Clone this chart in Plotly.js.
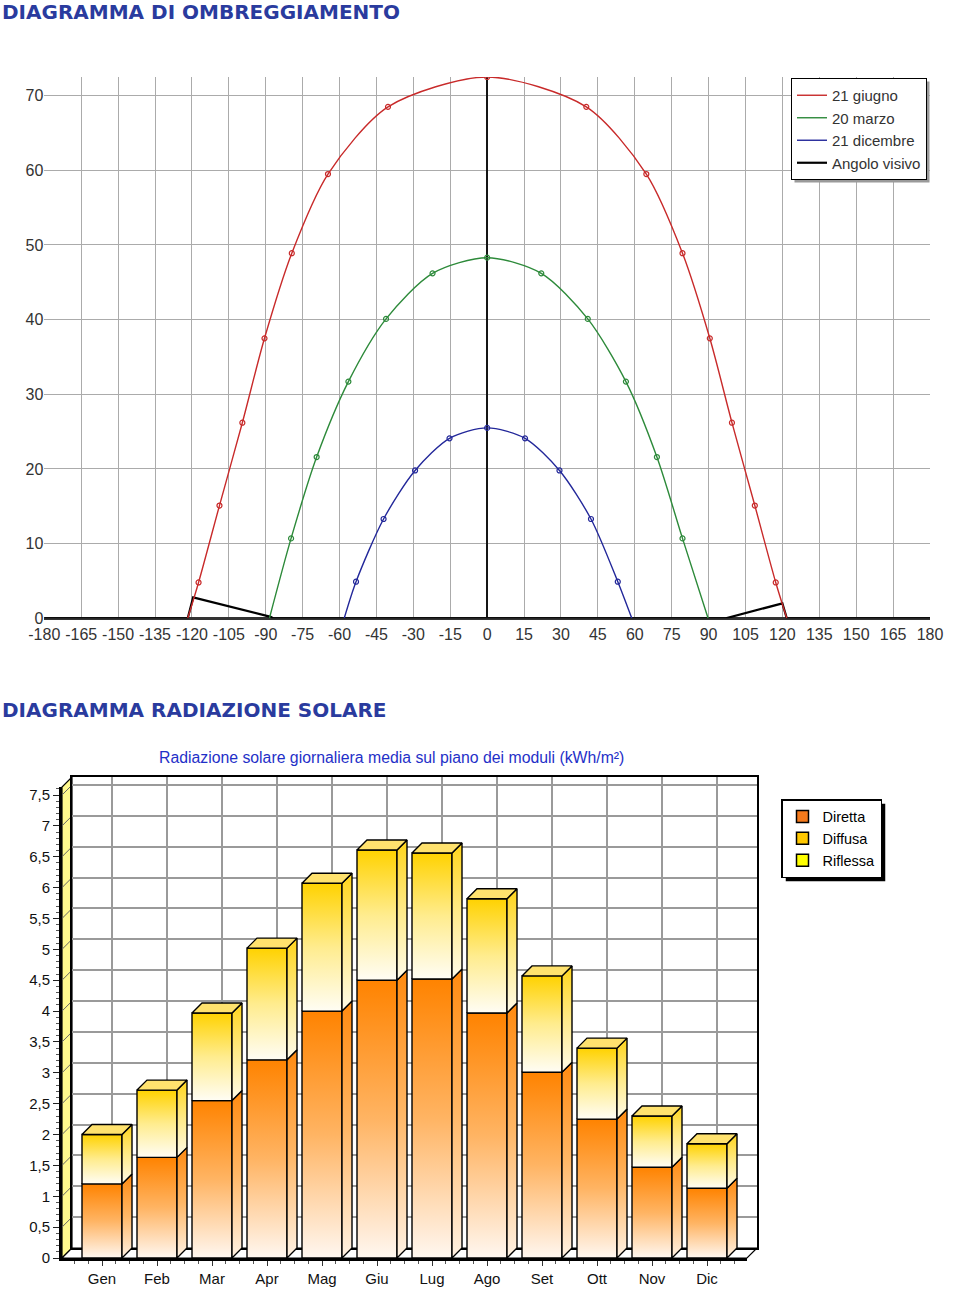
<!DOCTYPE html>
<html><head><meta charset="utf-8">
<script src="https://cdn.plot.ly/plotly-3.0.1.min.js"></script>
<style>html,body{margin:0;padding:0;background:#fff}#chart{width:960px;height:1289px}</style>
</head><body><div id="chart"></div>
<script>
// ---------------- DATA: shading diagram ----------------
const seriesNames = ['21 giugno', '20 marzo', '21 dicembre', 'Angolo visivo'];
const junX = [-117.3, -108.8, -99.5, -90.5, -79.4, -64.7, -40.3, 0, 40.3, 64.7, 79.4, 90.5, 99.5, 108.8, 117.3];
const junY = [4.8, 15.1, 26.2, 37.5, 48.9, 59.5, 68.5, 72.5, 68.5, 59.5, 48.9, 37.5, 26.2, 15.1, 4.8];
const junRiseSet = [-121.7, 121.8];
const marX = [-79.7, -69.3, -56.4, -41.1, -22.2, 0, 22.0, 40.9, 56.4, 69.0, 79.4];
const marY = [10.7, 21.6, 31.7, 40.1, 46.2, 48.3, 46.2, 40.1, 31.7, 21.6, 10.7];
const marRiseSet = [-88.5, 89.8];
const decX = [-53.3, -42.1, -29.3, -15.3, 0, 15.4, 29.4, 42.2, 53.1];
const decY = [4.9, 13.3, 19.8, 24.1, 25.5, 24.1, 19.8, 13.3, 4.9];
const decRiseSet = [-58.1, 58.8];
const viewX = [-180, -121.7, -119.5, -88, -87, 97, 120, 121.8, 180];
const viewY = [0, 0, 2.8, 0.2, 0, 0, 2.0, 0, 0];
const azimuthTicks = [-180, -165, -150, -135, -120, -105, -90, -75, -60, -45, -30, -15, 0, 15, 30, 45, 60, 75, 90, 105, 120, 135, 150, 165, 180];
const elevationTicks = [0, 10, 20, 30, 40, 50, 60, 70];

// ---------------- DATA: solar radiation ----------------
const months = ['Gen', 'Feb', 'Mar', 'Apr', 'Mag', 'Giu', 'Lug', 'Ago', 'Set', 'Ott', 'Nov', 'Dic'];
const diretta = [1.20, 1.63, 2.55, 3.21, 4.00, 4.50, 4.52, 3.97, 3.01, 2.25, 1.47, 1.13];
const diffusa = [0.80, 1.09, 1.42, 1.81, 2.07, 2.11, 2.04, 1.85, 1.56, 1.15, 0.83, 0.72];
const riflessa = [0, 0, 0, 0, 0, 0, 0, 0, 0, 0, 0, 0];
const radNames = ['Diretta', 'Diffusa', 'Riflessa'];

// ---------------- helpers / layout constants ----------------
const W = 960, H = 1289;
const px = v => v / W;
const py = v => 1 - v / H;
const FONT = 'Liberation Sans, Arial, sans-serif';

// bottom chart geometry (front plane)
const X0 = 62, X1 = 747, YB = 1258, YT = 787;     // front plane in px
const DEP = 10;                                    // depth offset in px
const XR = [-0.7273, 11.7273], YR = [0, 7.63];
const uxp = (X1 - X0) / (XR[1] - XR[0]);
const uyp = (YB - YT) / (YR[1] - YR[0]);
const HW = 20 / uxp, DX = DEP / uxp, DY = DEP / uyp;

const traces = [];

// ---------------- top chart traces ----------------
const colors = ['#c82a2a', '#2d8a3a', '#23289a', '#000000'];
// viewing angle first so that the sun paths are drawn over it
traces.push({
  type: 'scatter', mode: 'lines', name: seriesNames[3], legend: 'legend', legendrank: 4,
  x: viewX, y: viewY, line: {color: colors[3], width: 2.2}, hoverinfo: 'x+y'
});
function sunPath(xs, ys, rs, name, col, rank) {
  traces.push({
    type: 'scatter', mode: 'lines', name: name, legend: 'legend', legendrank: rank,
    x: [rs[0]].concat(xs, [rs[1]]), y: [0].concat(ys, [0]),
    line: {color: col, width: 1.4, shape: 'spline', smoothing: 0.8},
    hoverinfo: 'x+y'
  });
  traces.push({
    type: 'scatter', mode: 'markers', showlegend: false, x: xs, y: ys,
    marker: {symbol: 'circle-open', size: 5, color: col, line: {width: 1.2, color: col}},
    hoverinfo: 'x+y'
  });
}
sunPath(junX, junY, junRiseSet, seriesNames[0], colors[0], 1);
sunPath(marX, marY, marRiseSet, seriesNames[1], colors[1], 2);
sunPath(decX, decY, decRiseSet, seriesNames[2], colors[2], 3);

// ---------------- bottom chart: back wall holder (grid only) ----------------
traces.push({type: 'scatter', mode: 'markers', x: [null], y: [null], xaxis: 'x2', yaxis: 'y2',
  showlegend: false, hoverinfo: 'skip'});

// ---------------- bottom chart traces ----------------
const grads = {
  dirFront: [[0, '#fff7f0'], [0.5, '#ffb463'], [1, '#ff8300']],
  dirSide:  [[0, '#fff2e4'], [0.5, '#ffb766'], [1, '#ff8a10']],
  difFront: [[0, '#fffdf4'], [0.5, '#ffec8e'], [1, '#ffd200']],
  difSide:  [[0, '#fffbea'], [0.5, '#ffea88'], [1, '#ffd41a']]
};
function poly(xs, ys, cs, fallback) {
  const t = {
    type: 'scatter', mode: 'lines', x: xs, y: ys, xaxis: 'x3', yaxis: 'y3',
    fill: 'toself', fillcolor: fallback, line: {color: '#000', width: 1.4},
    hoverinfo: 'skip', showlegend: false
  };
  if (cs) t.fillgradient = {type: 'vertical', colorscale: cs};
  traces.push(t);
}
months.forEach((m, i) => {
  const xl = i - HW, xr = i + HW;
  const a = diretta[i], b = a + diffusa[i], c = b + riflessa[i];
  poly([xl, xr, xr, xl, xl], [0, 0, a, a, 0], grads.dirFront, '#ffa040');
  poly([xr, xr + DX, xr + DX, xr, xr], [0, DY, a + DY, a, 0], grads.dirSide, '#ffa040');
  poly([xl, xr, xr, xl, xl], [a, a, b, b, a], grads.difFront, '#ffe060');
  poly([xr, xr + DX, xr + DX, xr, xr], [a, a + DY, b + DY, b, a], grads.difSide, '#ffe060');
  if (riflessa[i] > 0) {
    poly([xl, xr, xr, xl, xl], [b, b, c, c, b], null, '#ffff00');
    poly([xr, xr + DX, xr + DX, xr, xr], [b, b + DY, c + DY, c, b], null, '#ffff40');
  }
  poly([xl, xr, xr + DX, xl + DX, xl], [c, c, c + DY, c + DY, c], null, '#ffe26e');
});
// legend entries for the radiation chart
const radColors = ['#f57a1c', '#ffc800', '#ffff00'];
radNames.forEach((n, k) => {
  traces.push({
    type: 'bar', x: [null], y: [null], xaxis: 'x3', yaxis: 'y3', name: n, legend: 'legend2',
    marker: {color: radColors[k], line: {color: '#000', width: 1.5}}, hoverinfo: 'skip'
  });
});

// ---------------- shapes ----------------
const FY = y => YB - (y - YR[0]) * uyp;
const shapes = [];
// left wall
shapes.push({type: 'path', xref: 'paper', yref: 'paper', layer: 'below',
  path: `M${px(X0)},${py(YB)} L${px(X0)},${py(YT)} L${px(X0 + DEP)},${py(YT - DEP)} L${px(X0 + DEP)},${py(YB - DEP)} Z`,
  fillcolor: '#fff98e', line: {color: '#000', width: 1.2}});
// floor
shapes.push({type: 'path', xref: 'paper', yref: 'paper', layer: 'below',
  path: `M${px(X0)},${py(YB)} L${px(X1)},${py(YB)} L${px(X1 + DEP)},${py(YB - DEP)} L${px(X0 + DEP)},${py(YB - DEP)} Z`,
  fillcolor: '#ffffff', line: {color: '#000', width: 1.2}});
// left wall diagonals
for (let v = 0.5; v <= 7.5; v += 0.5) {
  const yy = FY(v);
  shapes.push({type: 'line', xref: 'paper', yref: 'paper', layer: 'below',
    x0: px(X0), y0: py(yy), x1: px(X0 + DEP), y1: py(yy - DEP), line: {color: '#666', width: 1}});
}
function shadowRect(l, t, r, b, col) {
  return {type: 'rect', xref: 'paper', yref: 'paper', layer: 'above',
    x0: px(l), x1: px(r), y0: py(b), y1: py(t), fillcolor: col, line: {width: 0}};
}
const shadowTop = {off: 3, col: '#9a9a9a', guess: [791, 78, 930, 180]};
const shadowBot = {off: 4, col: '#000000', guess: [781, 799, 884, 871]};
const mk = (s, box) => shadowRect(box[0] + s.off, box[1] + s.off, box[2] + s.off, box[3] + s.off, s.col);

// ---------------- layout ----------------
const gridTop = '#ababab';
const layout = {
  width: W, height: H, margin: {l: 0, r: 0, t: 0, b: 0},
  paper_bgcolor: '#fff', plot_bgcolor: 'rgba(0,0,0,0)',
  separators: ',.', showlegend: true, hovermode: 'closest',
  font: {family: FONT, color: '#222'},
  xaxis: {
    domain: [px(44.3), px(930)], range: [-180, 180], anchor: 'y',
    tickmode: 'array', tickvals: azimuthTicks, ticktext: azimuthTicks.map(String),
    ticks: 'outside', ticklen: 1, tickcolor: 'rgba(0,0,0,0)',
    showgrid: true, gridcolor: gridTop, gridwidth: 1,
    zeroline: true, zerolinecolor: '#151515', zerolinewidth: 2,
    showline: false, tickfont: {family: FONT, size: 16, color: '#333'}, fixedrange: true
  },
  yaxis: {
    domain: [py(618.3), py(77)], range: [0, 72.5], anchor: 'x',
    tickmode: 'array', tickvals: elevationTicks, ticktext: elevationTicks.map(String),
    ticks: '', showgrid: true, gridcolor: gridTop, gridwidth: 1,
    zeroline: true, zerolinecolor: '#333', zerolinewidth: 3,
    showline: false, tickfont: {family: FONT, size: 16, color: '#333'}, fixedrange: true
  },
  xaxis2: {
    domain: [px(X0 + DEP), px(X1 + DEP)], range: XR, anchor: 'y2',
    tickmode: 'array', tickvals: months.map((_, i) => i), showticklabels: false, ticks: '',
    showgrid: true, gridcolor: '#9a9a9a', gridwidth: 2, zeroline: false,
    showline: true, mirror: true, linecolor: '#000', linewidth: 2, fixedrange: true
  },
  yaxis2: {
    domain: [py(YB - DEP), py(YT - DEP)], range: YR, anchor: 'x2',
    tickmode: 'linear', tick0: 0, dtick: 0.5, showticklabels: false, ticks: '',
    showgrid: true, gridcolor: '#9a9a9a', gridwidth: 2, zeroline: false,
    showline: true, mirror: true, linecolor: '#000', linewidth: 2, fixedrange: true
  },
  xaxis3: {
    domain: [px(X0), px(X1)], range: XR, anchor: 'y3',
    tickmode: 'array', tickvals: months.map((_, i) => i), ticktext: months,
    ticks: 'outside', ticklen: 5, tickcolor: '#333', tickwidth: 1,
    minor: {tickmode: 'linear', tick0: 0, dtick: 0.25, ticks: 'outside', ticklen: 3, tickcolor: '#555', showgrid: false},
    showgrid: false, zeroline: false, showline: true, linecolor: '#000', linewidth: 2.5,
    tickfont: {family: FONT, size: 15, color: '#111'}, fixedrange: true
  },
  yaxis3: {
    domain: [py(YB), py(YT)], range: YR, anchor: 'x3',
    tickmode: 'linear', tick0: 0, dtick: 0.5,
    ticks: 'outside', ticklen: 6, tickcolor: '#222', tickwidth: 1,
    minor: {dtick: 0.1, ticks: 'outside', ticklen: 3, tickcolor: '#555', showgrid: false},
    showgrid: false, zeroline: false, showline: true, linecolor: '#000', linewidth: 3,
    tickfont: {family: FONT, size: 15, color: '#111'}, fixedrange: true
  },
  legend: {
    x: px(791), y: py(78), xanchor: 'left', yanchor: 'top',
    bgcolor: '#fff', bordercolor: '#000', borderwidth: 1,
    font: {family: FONT, size: 15, color: '#333'}, itemwidth: 30, tracegroupgap: 0
  },
  legend2: {
    x: px(781), y: py(799), xanchor: 'left', yanchor: 'top',
    bgcolor: '#fff', bordercolor: '#000', borderwidth: 1.5,
    font: {family: FONT, size: 14.5, color: '#000'}, itemwidth: 30, tracegroupgap: 0
  },
  shapes: shapes.concat([mk(shadowTop, shadowTop.guess), mk(shadowBot, shadowBot.guess)]),
  annotations: [
    {xref: 'paper', yref: 'paper', x: 0, y: py(12), xanchor: 'left', yanchor: 'middle', showarrow: false,
      text: '<b>DIAGRAMMA DI OMBREGGIAMENTO</b>', font: {family: 'DejaVu Sans, Verdana, sans-serif', size: 20, color: '#2a3b9e'}},
    {xref: 'paper', yref: 'paper', x: 0, y: py(710), xanchor: 'left', yanchor: 'middle', showarrow: false,
      text: '<b>DIAGRAMMA RADIAZIONE SOLARE</b>', font: {family: 'DejaVu Sans, Verdana, sans-serif', size: 20, color: '#2a3b9e'}},
    {xref: 'paper', yref: 'paper', x: px(391), y: py(757), xanchor: 'center', yanchor: 'middle', showarrow: false,
      text: 'Radiazione solare giornaliera media sul piano dei moduli (kWh/m²)', font: {family: FONT, size: 15.8, color: '#1f30c8'}}
  ]
};
Plotly.newPlot('chart', traces, layout, {displayModeBar: false}).then(gd => {
  // place the legend drop shadows exactly behind the drawn legend boxes
  const gr = gd.getBoundingClientRect();
  const boxes = {};
  gd.querySelectorAll('.infolayer > g').forEach(g => {
    const cls = g.getAttribute('class') || '';
    const bg = g.querySelector('rect.bg');
    if (!bg) return;
    const r = bg.getBoundingClientRect();
    const box = [r.left - gr.left, r.top - gr.top, r.right - gr.left, r.bottom - gr.top];
    if (/\blegend2\b/.test(cls)) boxes.legend2 = box;
    else if (/\blegend\b/.test(cls)) boxes.legend = box;
  });
  const extra = [
    mk(shadowTop, boxes.legend || shadowTop.guess),
    mk(shadowBot, boxes.legend2 || shadowBot.guess)
  ];
  return Plotly.relayout(gd, {shapes: shapes.concat(extra)});
});
</script>
</body></html>
